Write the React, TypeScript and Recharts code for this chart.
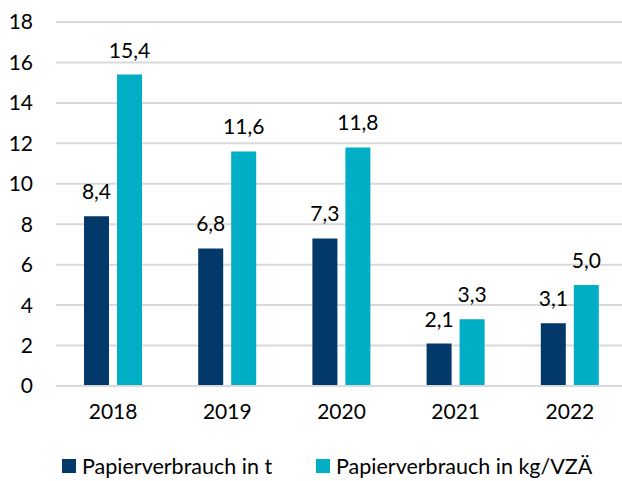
import React from 'react';
import { BarChart, Bar, XAxis, YAxis, CartesianGrid, LabelList, Legend } from 'recharts';

const years = ['2018', '2019', '2020', '2021', '2022'];
const tonnes = [8.4, 6.8, 7.3, 2.1, 3.1];
const kgPerFte = [15.4, 11.6, 11.8, 3.3, 5.0];
const yTicks = [0, 2, 4, 6, 8, 10, 12, 14, 16, 18];

const NAVY = '#02386A';
const TEAL = '#00AEC5';
const FONT = 'Lato, "Open Sans", sans-serif';
const FS = 21;

const data = years.map((y, i) => ({ year: y, t: tonnes[i], kg: kgPerFte[i] }));
const fmt = (v: any) => Number(v).toFixed(1).replace('.', ',');

const legendItems = [
  { label: 'Papierverbrauch in t', color: NAVY, left: 62 },
  { label: 'Papierverbrauch in kg/VZÄ', color: TEAL, left: 316 },
];

const LegendContent = () => (
  <div style={{ position: 'relative', width: 630, height: 30 }}>
    {legendItems.map((it) => (
      <div
        key={it.label}
        style={{ position: 'absolute', left: it.left, top: 0, display: 'flex', alignItems: 'center', fontFamily: FONT, fontSize: 21.5, color: '#000', whiteSpace: 'nowrap' }}
      >
        <span style={{ display: 'inline-block', width: 14, height: 14, background: it.color, marginRight: 6 }} />
        <span>{it.label}</span>
      </div>
    ))}
  </div>
);

export default function App() {
  return (
    <div style={{ position: 'fixed', left: 0, top: 0, width: 622, height: 481, overflow: 'hidden', background: '#fff' }}>
      <BarChart
        width={630}
        height={481}
        data={data}
        margin={{ top: 22, right: 3, left: 0, bottom: 25 }}
        barGap={8}
        barSize={25}
      >
        <CartesianGrid vertical={false} stroke="#d9d9d9" strokeWidth={2} />
        <XAxis
          dataKey="year"
          axisLine={{ stroke: '#d9d9d9', strokeWidth: 2 }}
          tickLine={false}
          tickSize={8}
          tickMargin={10}
          height={40}
          tick={{ fill: '#000', fontSize: FS, fontFamily: FONT }}
        />
        <YAxis
          domain={[0, 18]}
          ticks={yTicks}
          interval={0}
          axisLine={false}
          tickLine={false}
          width={56}
          tickSize={8}
          tickMargin={15}
          tick={{ fill: '#000', fontSize: FS, fontFamily: FONT }}
        />
        <Legend
          verticalAlign="bottom"
          height={30}
          content={<LegendContent />}
          wrapperStyle={{ position: 'absolute', left: 0, top: 453, width: 630, height: 30 }}
        />
        <Bar dataKey="t" fill={NAVY} isAnimationActive={false}>
          <LabelList dataKey="t" position="top" offset={17} formatter={fmt} fill="#000" fontSize={FS} fontFamily={FONT} />
        </Bar>
        <Bar dataKey="kg" fill={TEAL} isAnimationActive={false}>
          <LabelList dataKey="kg" position="top" offset={17} formatter={fmt} fill="#000" fontSize={FS} fontFamily={FONT} />
        </Bar>
      </BarChart>
    </div>
  );
}
